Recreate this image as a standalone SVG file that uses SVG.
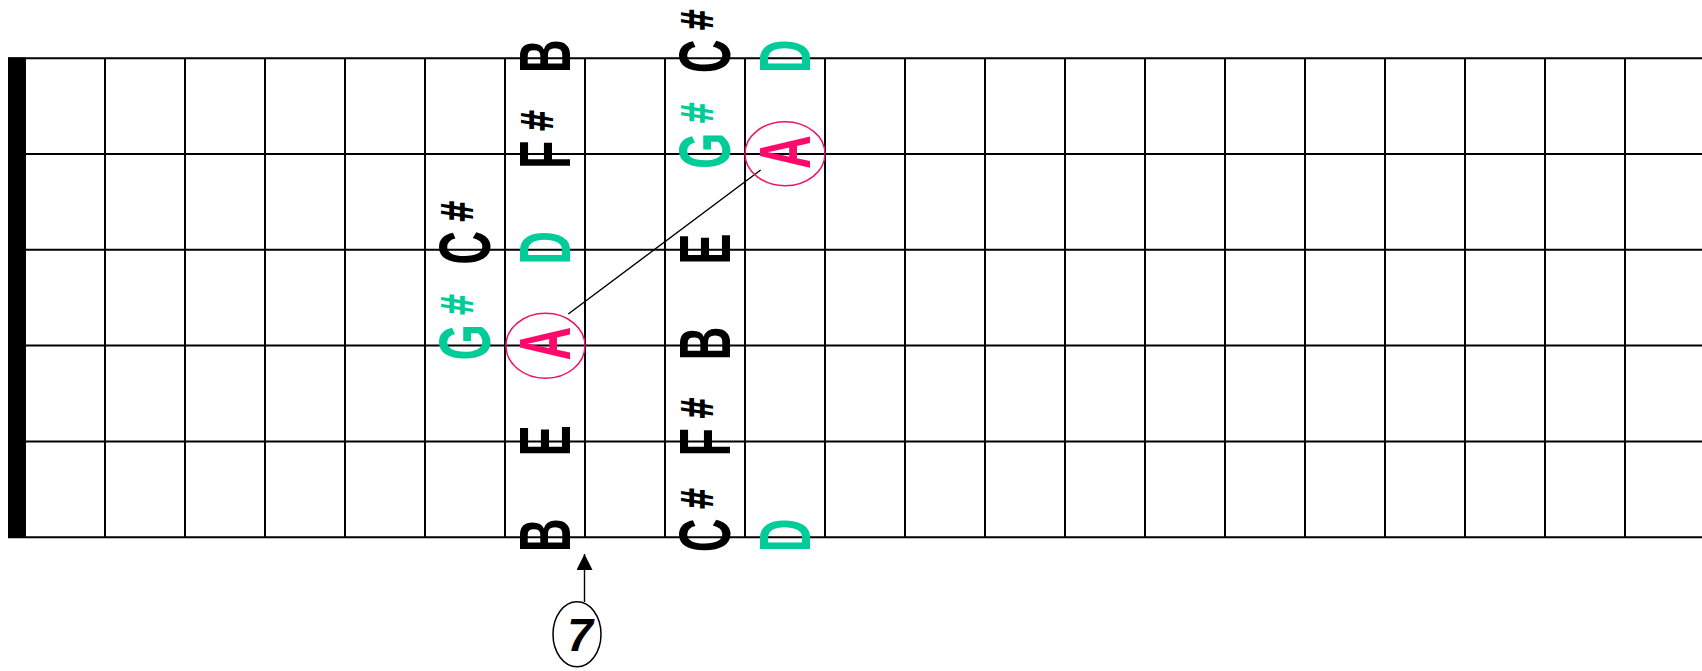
<svg xmlns="http://www.w3.org/2000/svg" width="1702" height="671" viewBox="0 0 1702 671">
<style>
.str{stroke:#000;stroke-width:2;fill:none}
.note{font-family:"Liberation Sans",Arial,sans-serif;font-weight:bold;font-size:72px}
.sh{font-family:"DejaVu Sans",sans-serif;font-weight:bold;font-size:44px}
.blk{fill:#000}
.grn{fill:#00cc99}
.pnk{fill:#ff0a6a}
.ring{fill:none;stroke:#ee1166;stroke-width:1.5}
.conn{stroke:#000;stroke-width:1.4;fill:none}
</style>
<defs>
<marker id="arrow" viewBox="0 0 16 16" refX="16" refY="8" markerWidth="16" markerHeight="16" orient="auto" markerUnits="userSpaceOnUse">
<path d="M0,0 L16,8 L0,16 z" fill="#000"/>
</marker>
</defs>
<rect width="1702" height="671" fill="#fff"/>
<g id="fretboard">
<rect x="8" y="57.5" width="18" height="480.5" fill="#000"/>
<g class="str">
<line x1="8" y1="58.3" x2="1702" y2="58.3"/>
<line x1="8" y1="154" x2="1702" y2="154"/>
<line x1="8" y1="249.8" x2="1702" y2="249.8"/>
<line x1="8" y1="345.6" x2="1702" y2="345.6"/>
<line x1="8" y1="441.4" x2="1702" y2="441.4"/>
<line x1="8" y1="537.2" x2="1702" y2="537.2"/>
<path d="M105,58.3V537.2M185,58.3V537.2M265,58.3V537.2M345,58.3V537.2M425,58.3V537.2M505,58.3V537.2M585,58.3V537.2M665,58.3V537.2M745,58.3V537.2M825,58.3V537.2M905,58.3V537.2M985,58.3V537.2M1065,58.3V537.2M1145,58.3V537.2M1225,58.3V537.2M1305,58.3V537.2M1385,58.3V537.2M1465,58.3V537.2M1545,58.3V537.2M1625,58.3V537.2"/>
</g>
</g>
<g id="connectors">
<line class="conn" x1="568.3" y1="314" x2="760.7" y2="170"/>
<line class="conn" x1="584.5" y1="602" x2="584.5" y2="554" marker-end="url(#arrow)"/>
</g>
<g id="col-fret6">
<text class="note blk" transform="translate(490,264.8) rotate(-90) scale(0.65,1)">C<tspan class="sh" dx="12" dy="-17">#</tspan></text>
<text class="note grn" transform="translate(490,360.6) rotate(-90) scale(0.65,1)">G<tspan class="sh" dx="12" dy="-17">#</tspan></text>
</g>
<g id="col-fret7">
<text class="note blk" transform="translate(570,73.3) rotate(-90) scale(0.65,1)">B</text>
<text class="note blk" transform="translate(570,169) rotate(-90) scale(0.65,1)">F<tspan class="sh" dx="12" dy="-17">#</tspan></text>
<text class="note grn" transform="translate(570,264.8) rotate(-90) scale(0.65,1)">D</text>
<g id="root-a1">
<ellipse class="ring" cx="545.5" cy="345.8" rx="39.5" ry="32.5"/>
<text class="note pnk" transform="translate(570,360.6) rotate(-90) scale(0.65,1)">A</text>
</g>
<text class="note blk" transform="translate(570,456.4) rotate(-90) scale(0.65,1)">E</text>
<text class="note blk" transform="translate(570,552.2) rotate(-90) scale(0.65,1)">B</text>
</g>
<g id="col-fret9">
<text class="note blk" transform="translate(730,73.3) rotate(-90) scale(0.65,1)">C<tspan class="sh" dx="12" dy="-17">#</tspan></text>
<text class="note grn" transform="translate(730,169) rotate(-90) scale(0.65,1)">G<tspan class="sh" dx="12" dy="-17">#</tspan></text>
<text class="note blk" transform="translate(730,264.8) rotate(-90) scale(0.65,1)">E</text>
<text class="note blk" transform="translate(730,360.6) rotate(-90) scale(0.65,1)">B</text>
<text class="note blk" transform="translate(730,456.4) rotate(-90) scale(0.65,1)">F<tspan class="sh" dx="12" dy="-17">#</tspan></text>
<text class="note blk" transform="translate(730,552.2) rotate(-90) scale(0.65,1)">C<tspan class="sh" dx="12" dy="-17">#</tspan></text>
</g>
<g id="col-fret10">
<text class="note grn" transform="translate(810,73.3) rotate(-90) scale(0.65,1)">D</text>
<g id="root-a2">
<ellipse class="ring" cx="785" cy="153.7" rx="40" ry="32"/>
<text class="note pnk" transform="translate(810,169) rotate(-90) scale(0.65,1)">A</text>
</g>
<text class="note grn" transform="translate(810,552.2) rotate(-90) scale(0.65,1)">D</text>
</g>
<g id="fret-marker-7">
<ellipse cx="577" cy="634.2" rx="24" ry="32.5" fill="none" stroke="#000" stroke-width="1.5"/>
<text x="580" y="651" text-anchor="middle" font-family="'Liberation Sans',Arial,sans-serif" font-weight="bold" font-style="italic" font-size="46">7</text>
</g>
</svg>
